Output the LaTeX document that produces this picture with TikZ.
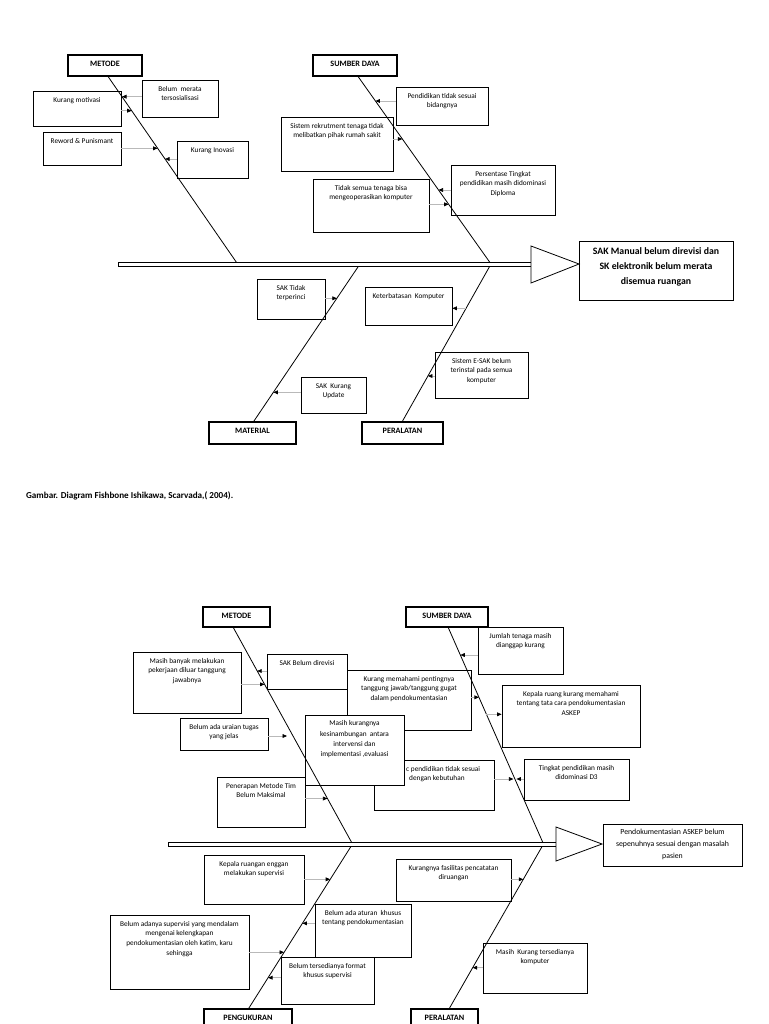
\documentclass[tikz,border=0pt]{standalone}
\usepackage{fontspec}
\setmainfont{Carlito}
\usetikzlibrary{arrows.meta,calc,fit}
\definecolor{conng}{RGB}{185,185,185}
\newcommand{\onbone}[6]{\coordinate (#1) at ($(#2)!{((#6)-(#4))/((#5)-(#4))}!(#3)$);}
\newcommand{\btext}[2]{\node[txt] (#1-t) at ($(#1.north)+(0,6.5)$) {#2};}
\newcommand{\ctext}[2]{\node[cattxt] (#1-t) at ($(#1.north)+(0,12.5)$) {#2};}
\begin{document}
\begin{tikzpicture}[x=1pt,y=-1pt,
  bx/.style={draw=black, line width=0.8pt, fill=white, inner sep=0pt},
  cat/.style={draw=black, line width=1.1pt, fill=white, inner sep=0pt},
  txt/.style={font=\fontsize{7.3}{9.6}\selectfont, align=center, inner sep=0pt, anchor=north},
  cattxt/.style={font=\fontsize{8.2}{10}\selectfont\bfseries, inner sep=0pt, anchor=base},
  bone/.style={draw=black, line width=0.8pt},
  spine/.style={draw=black, line width=0.8pt, fill=white},
  conn/.style={draw=conng, line width=0.7pt, -{Triangle[length=4.5pt,width=3.8pt,color=black]}}]
\useasboundingbox[fill=white] (0,0) rectangle (768,1024);

% ================= Diagram 1 =================
\node[cat, fit={(68,55) (142,76)}] (m1) {};
\node[cat, fit={(313,55) (397,76)}] (s1) {};
\node[cat, fit={(209,422) (296,444)}] (ma1) {};
\node[cat, fit={(362,422) (443,444)}] (pe1) {};
\node[bx, fit={(33,91) (121,126)}] (km) {};
\node[bx, fit={(142,80) (218,117)}] (bm) {};
\node[bx, fit={(43,132) (121,165)}] (rp) {};
\node[bx, fit={(177,141) (248,178)}] (ki) {};
\node[bx, fit={(396,87) (488,125)}] (pt) {};
\node[bx, fit={(281,117) (393,171)}] (sr) {};
\node[bx, fit={(451,165) (555,215)}] (ps) {};
\node[bx, fit={(313,179) (429,232)}] (ts) {};
\node[bx, fit={(257,279) (325,319)}] (st) {};
\node[bx, fit={(365,287) (452,325)}] (kk) {};
\node[bx, fit={(435,352) (528,398)}] (se) {};
\node[bx, fit={(301,377) (366,413)}] (su) {};
\node[bx, fit={(579,241) (733,300)}] (ef1) {};

\coordinate (A1) at (107.7,76);  \coordinate (A2) at (237.6,264);
\coordinate (B1) at (357.7,76);  \coordinate (B2) at (491,264);
\coordinate (C1) at (253.3,422); \coordinate (C2) at (360,264);
\coordinate (D1) at (402,422);   \coordinate (D2) at (491,264);
\draw[bone] (A1) -- (A2);
\draw[bone] (B1) -- (B2);
\draw[bone] (C1) -- (C2);
\draw[bone] (D1) -- (D2);
\draw[spine] (118,262) rectangle (531,266);
\draw[spine] (531,246) -- (579,264) -- (531,283) -- cycle;

\onbone{a1}{A1}{A2}{76}{264}{96.7}
\onbone{a2}{A1}{A2}{76}{264}{110.7}
\onbone{a3}{A1}{A2}{76}{264}{148.3}
\onbone{a4}{A1}{A2}{76}{264}{159}
\onbone{b1}{B1}{B2}{76}{264}{101}
\onbone{b2}{B1}{B2}{76}{264}{139}
\onbone{b3}{B1}{B2}{76}{264}{190}
\onbone{b4}{B1}{B2}{76}{264}{204.3}
\onbone{c1}{C1}{C2}{422}{264}{298.3}
\onbone{c2}{C1}{C2}{422}{264}{392.3}
\onbone{d1}{D1}{D2}{422}{264}{308.3}
\onbone{d2}{D1}{D2}{422}{264}{376}
\draw[conn] (bm.west |- a1) -- (a1);
\draw[conn] (km.east |- a2) -- (a2);
\draw[conn] (rp.east |- a3) -- (a3);
\draw[conn] (ki.west |- a4) -- (a4);
\draw[conn] (pt.west |- b1) -- (b1);
\draw[conn] (sr.east |- b2) -- (b2);
\draw[conn] (ps.west |- b3) -- (b3);
\draw[conn] (ts.east |- b4) -- (b4);
\draw[conn] (st.east |- c1) -- (c1);
\draw[conn] (su.west |- c2) -- (c2);
\draw[conn] (d1) -- (kk.east |- d1);
\draw[conn] (se.west |- d2) -- (d2);

\ctext{m1}{METODE}
\ctext{s1}{SUMBER DAYA}
\ctext{ma1}{MATERIAL}
\ctext{pe1}{PERALATAN}
\btext{km}{Kurang motivasi}
\btext{bm}{Belum\ \ merata\\tersosialisasi}
\btext{rp}{Reword \& Punismant}
\btext{ki}{Kurang Inovasi}
\btext{pt}{Pendidikan tidak sesuai\\bidangnya}
\btext{sr}{Sistem rekrutment tenaga tidak\\melibatkan pihak rumah sakit}
\btext{ps}{Persentase Tingkat\\pendidikan masih didominasi\\Diploma}
\btext{ts}{Tidak semua tenaga bisa\\mengeoperasikan komputer}
\btext{st}{SAK Tidak\\terperinci}
\btext{kk}{Keterbatasan\ \ Komputer}
\btext{se}{Sistem E-SAK belum\\terinstal pada semua\\komputer}
\btext{su}{SAK\ \ Kurang\\Update}
\node[font=\fontsize{9.8}{14.8}\selectfont\bfseries, align=center, inner sep=0pt, anchor=north] (ef1-t) at ($(ef1.north)+(0,7)$) {SAK Manual belum direvisi dan\\SK elektronik belum merata\\disemua ruangan};

\node[font=\fontsize{9.1}{11}\selectfont\bfseries, anchor=west, inner sep=0pt] (cap) at (26,496) {Gambar. Diagram Fishbone Ishikawa, Scarvada,( 2004).};

% ================= Diagram 2 =================
\node[cat, fit={(203,607) (270,627)}] (m2) {};
\node[cat, fit={(406,607) (488,627)}] (s2) {};
\node[cat, fit={(204,1009) (292,1034)}] (pg2) {};
\node[cat, fit={(411,1009) (478,1034)}] (pe2) {};
\node[bx, fit={(133,652) (241,713)}] (mb) {};
\node[bx, fit={(267,654) (347,689)}] (sb) {};
\node[bx, fit={(180,718) (268,750)}] (bu) {};
\node[bx, fit={(217,777) (305,827)}] (pm) {};
\node[bx, fit={(347,670) (471,730)}] (kp) {};
\node[bx, fit={(374,760) (494,810)}] (pk) {};
\node[txt, anchor=north west, align=left] (pk-t) at (406,766) {c pendidikan tidak sesuai\\\hspace*{3pt}dengan kebutuhan};
\node[bx, fit={(305,715) (404,785)}] (mk) {};
\node[bx, fit={(478,627) (563,674)}] (jt) {};
\node[bx, fit={(502,685) (640,747)}] (kr) {};
\node[bx, fit={(524,759) (629,800)}] (tp) {};
\node[bx, fit={(204,855) (304,904)}] (ke) {};
\node[bx, fit={(315,904) (411,957)}] (ba) {};
\node[bx, fit={(110,915) (249,989)}] (bs) {};
\node[bx, fit={(281,957) (374,1004)}] (bf) {};
\node[bx, fit={(396,859) (511,901)}] (kf) {};
\node[bx, fit={(483,943) (587,993)}] (mq) {};
\node[bx, fit={(603,824) (742,866)}] (ef2) {};

\coordinate (E1) at (233,627);    \coordinate (E2) at (352.5,844);
\coordinate (F1) at (448,627);    \coordinate (F2) at (543.5,844);
\coordinate (G1) at (248.3,1009); \coordinate (G2) at (352.5,844);
\coordinate (H1) at (449,1009);   \coordinate (H2) at (543.5,844);
\draw[bone] (E1) -- (E2);
\draw[bone] (F1) -- (F2);
\draw[bone] (G1) -- (G2);
\draw[bone] (H1) -- (H2);
\draw[spine] (168,842) rectangle (556,846);
\draw[spine] (556,827) -- (602,844) -- (556,861) -- cycle;

\onbone{e1}{E1}{E2}{627}{844}{671}
\onbone{e2}{E1}{E2}{627}{844}{684.3}
\onbone{e3}{E1}{E2}{627}{844}{736}
\onbone{e4}{E1}{E2}{627}{844}{798.5}
\onbone{f1}{F1}{F2}{627}{844}{655}
\onbone{f2}{F1}{F2}{627}{844}{697.3}
\onbone{f3}{F1}{F2}{627}{844}{714.3}
\onbone{f4}{F1}{F2}{627}{844}{779}
\onbone{g1}{G1}{G2}{1009}{844}{879.3}
\onbone{g2}{G1}{G2}{1009}{844}{923.3}
\onbone{g3}{G1}{G2}{1009}{844}{952.3}
\onbone{g4}{G1}{G2}{1009}{844}{977.7}
\onbone{h1}{H1}{H2}{1009}{844}{879.3}
\onbone{h2}{H1}{H2}{1009}{844}{967.7}
\draw[conn] (sb.west |- e1) -- (e1);
\draw[conn] (mb.east |- e2) -- (e2);
\draw[conn, shorten >=6pt] (bu.east |- e3) -- (e3);
\draw[conn] (pm.east |- e4) -- (e4);
\draw[conn] (jt.west |- f1) -- (f1);
\draw[conn] (kp.east |- f2) -- (f2);
\draw[conn] (f3) -- (kr.west |- f3);
\draw[conn, shorten >=1.5pt] (pk.east |- f4) -- (f4);
\draw[conn, shorten >=1.5pt] (tp.west |- f4) -- (f4);
\draw[conn] (ke.east |- g1) -- (g1);
\draw[conn] (ba.west |- g2) -- (g2);
\draw[conn] (bs.east |- g3) -- (g3);
\draw[conn] (bf.west |- g4) -- (g4);
\draw[conn] (kf.east |- h1) -- (h1);
\draw[conn] (mq.west |- h2) -- (h2);

\ctext{m2}{METODE}
\ctext{s2}{SUMBER DAYA}
\ctext{pg2}{PENGUKURAN}
\ctext{pe2}{PERALATAN}
\btext{mb}{Masih banyak melakukan\\pekerjaan diluar tanggung\\jawabnya}
\btext{sb}{SAK Belum direvisi}
\btext{bu}{Belum ada uraian tugas\\yang jelas}
\btext{pm}{Penerapan Metode Tim\\Belum Maksimal}
\btext{kp}{Kurang memahami pentingnya\\tanggung jawab/tanggung gugat\\dalam pendokumentasian}
\node[txt, font=\fontsize{7.3}{10.3}\selectfont] (mk-t) at ($(mk.north)+(0,6)$) {Masih kurangnya\\kesinambungan\ \ antara\\intervensi dan\\implementasi ,evaluasi};
\btext{jt}{Jumlah tenaga masih\\dianggap kurang}
\btext{kr}{Kepala ruang kurang memahami\\tentang tata cara pendokumentasian\\ASKEP}
\btext{tp}{Tingkat pendidikan masih\\didominasi D3}
\btext{ke}{Kepala ruangan enggan\\melakukan supervisi}
\btext{ba}{Belum ada aturan\ \ khusus\\tentang pendokumentasian}
\btext{bs}{Belum adanya supervisi yang mendalam\\mengenai kelengkapan\\pendokumentasian oleh katim, karu\\sehingga}
\btext{bf}{Belum tersedianya format\\khusus supervisi}
\btext{kf}{Kurangnya fasilitas pencatatan\\diruangan}
\btext{mq}{Masih\ \ Kurang tersedianya\\komputer}
\node[font=\fontsize{7.8}{11.7}\selectfont, align=center, inner sep=0pt, anchor=north] (ef2-t) at ($(ef2.north)+(0,5.5)$) {Pendokumentasian ASKEP belum\\sepenuhnya sesuai dengan masalah\\pasien};
\end{tikzpicture}
\end{document}
